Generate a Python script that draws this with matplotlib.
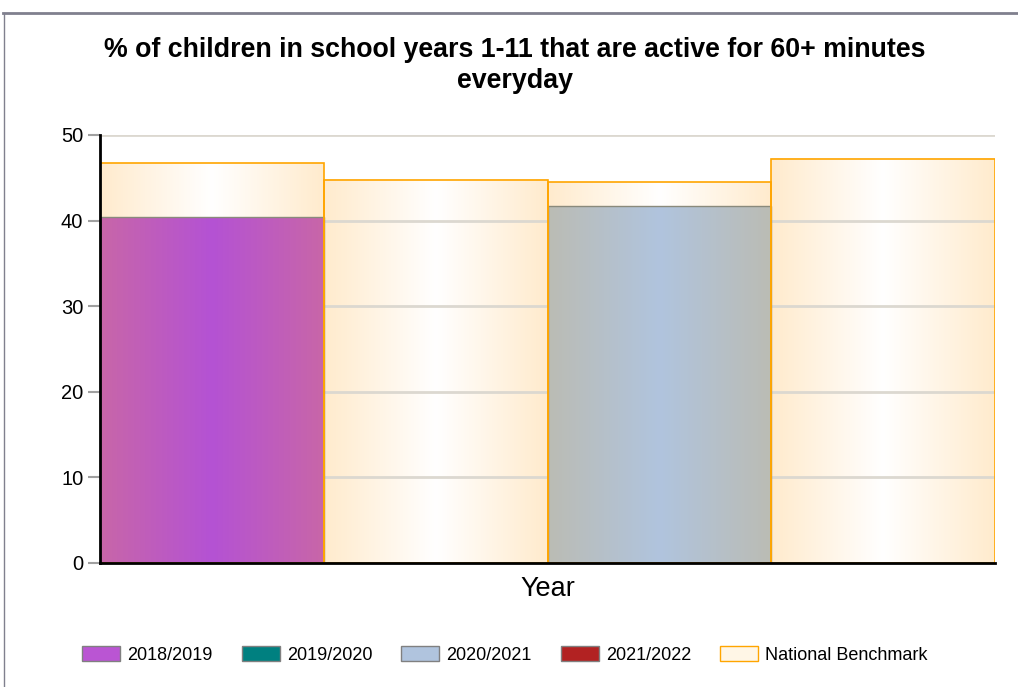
import matplotlib.pyplot as plt
import matplotlib.colors as mcolors
from matplotlib.patches import Patch
from matplotlib.lines import Line2D
import numpy as np

plt.rcParams['font.family'] = ['Liberation Sans', 'DejaVu Sans']

title = '% of children in school years 1-11 that are active for 60+ minutes\neveryday'
series = ['2018/2019', '2019/2020', '2020/2021', '2021/2022']
values = [40.4, None, 41.7, None]
benchmark = [46.7, 44.8, 44.5, 47.2]

legend_colors = ['#BA55D3', '#008080', '#B0C4DE', '#B22222']
# edge / centre colours of the horizontal gradient on each bar
grad_colors = {
    '2018/2019': ('#C866A8', '#B452D4'),
    '2019/2020': ('#207070', '#008080'),
    '2020/2021': ('#BBBCB4', '#B0C4DE'),
    '2021/2022': ('#A02828', '#B22222'),
}
bench_grad = ('#FFEBCD', '#FFFFFF')


def gradient_fill(ax, x0, x1, y0, y1, edge, centre, z):
    t = np.abs(np.linspace(-1, 1, 200))
    c0 = np.array(mcolors.to_rgb(edge))
    c1 = np.array(mcolors.to_rgb(centre))
    row = c1[None, :] * (1 - t[:, None]) + c0[None, :] * t[:, None]
    ax.imshow(row[None, :, :], extent=[x0, x1, y0, y1], aspect='auto',
              interpolation='bilinear', zorder=z)


fig = plt.figure(figsize=(10.18, 6.87), dpi=100)
ax = fig.add_axes([100 / 1018, 1 - 563 / 687, 895 / 1018, 428 / 687])

x = np.arange(len(series))
w = 1.0
for i in x:
    b = benchmark[i]
    gradient_fill(ax, i - w / 2, i + w / 2, 0, b, *bench_grad, z=1)
    ax.bar(i, b, width=w, facecolor='none', edgecolor='#FFA500', lw=1.2, zorder=3)
    v = values[i]
    if v is not None:
        gradient_fill(ax, i - w / 2, i + w / 2, 0, v, *grad_colors[series[i]], z=2)
        ax.bar(i, v, width=w, facecolor='none', edgecolor='#8A8A7C', lw=1, zorder=2.5)

ax.set_xlim(-0.5, 3.5)
ax.set_ylim(0, 50)
ax.set_yticks([0, 10, 20, 30, 40, 50])
ax.set_xticks([])
for y in [10, 20, 30, 40, 50]:
    ax.axhline(y, color='#DCD8D0', lw=2, zorder=1.5)

for s in ['top', 'right']:
    ax.spines[s].set_visible(False)
for s in ['left', 'bottom']:
    ax.spines[s].set_linewidth(2)
    ax.spines[s].set_color('black')
    ax.spines[s].set_zorder(4)
ax.tick_params(axis='y', labelsize=14.5, length=9, width=1.5, color='#A0A0A0', pad=3)

ax.set_xlabel('Year', fontsize=19.5, labelpad=9)
fig.text(0.506, 1 - 65.5 / 687, title, ha='center', va='center', fontsize=19.3,
         fontweight='bold', linespacing=1.22)

handles = [Patch(facecolor=c, edgecolor='#808080', lw=1) for c in legend_colors]
handles.append(Patch(facecolor='#FFF6E6', edgecolor='#FFA500', lw=1))
fig.legend(handles, series + ['National Benchmark'], loc='center', ncol=5,
           bbox_to_anchor=(0.496, 1 - 655 / 687), frameon=False, fontsize=13,
           handlelength=2.1, handleheight=0.9, columnspacing=1.6, handletextpad=0.4)

# outer frame lines
fig.add_artist(Line2D([3 / 1018, 1], [1 - 13 / 687, 1 - 13 / 687], color='#80808E', lw=2))
fig.add_artist(Line2D([4 / 1018, 4 / 1018], [0, 1 - 13 / 687], color='#80808E', lw=1))

fig.savefig('out.png', dpi=100)
